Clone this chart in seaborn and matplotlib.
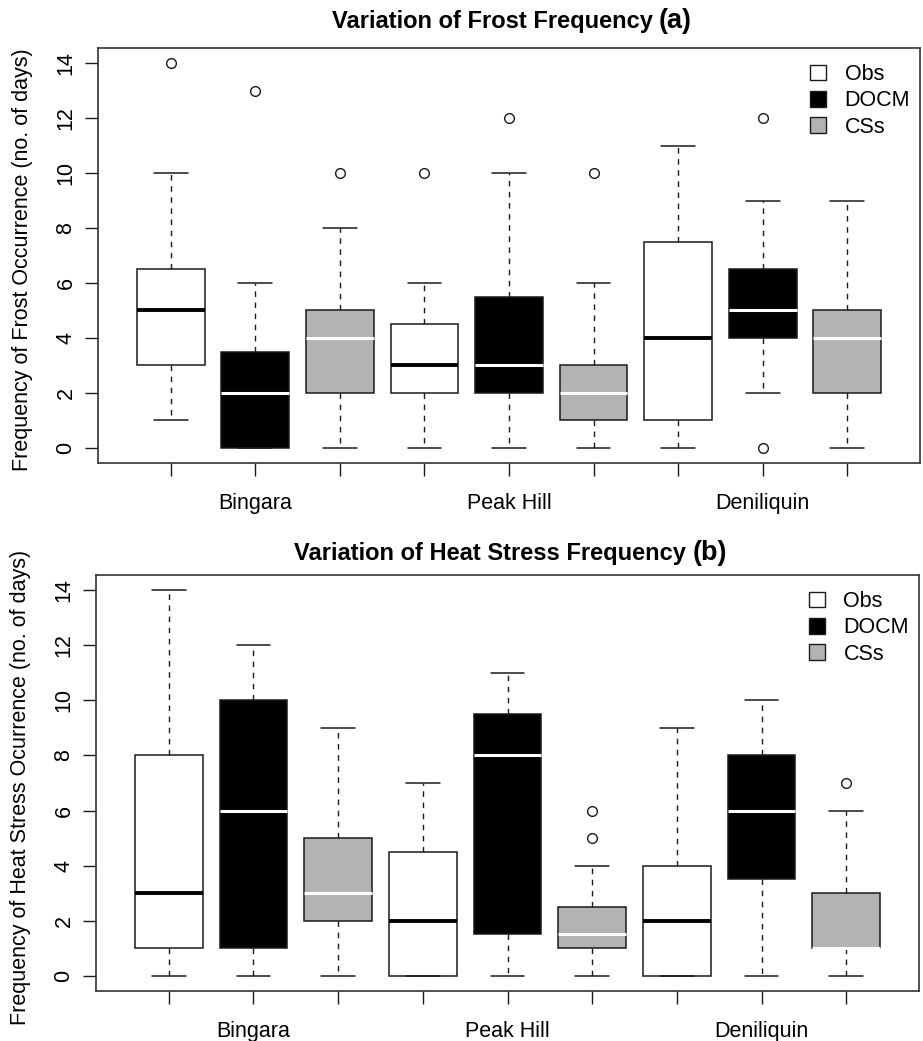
import numpy as np
import pandas as pd
import matplotlib
matplotlib.use("Agg")
import matplotlib.pyplot as plt
import seaborn as sns
from matplotlib.patches import Patch

# ---------------- data ----------------
sites = ["Bingara", "Peak Hill", "Deniliquin"]
sources = ["Obs", "DOCM", "CSs"]
source_colors = ["#ffffff", "#000000", "#b3b3b3"]
median_colors = ["#000000", "#ffffff", "#ffffff"]

# boxes ordered: Bingara Obs/DOCM/CSs, Peak Hill Obs/DOCM/CSs, Deniliquin Obs/DOCM/CSs
frost_low = [1, 0, 0, 0, 0, 0, 0, 2, 0]
frost_q1 = [3, 0, 2, 2, 2, 1, 1, 4, 2]
frost_med = [5, 2, 4, 3, 3, 2, 4, 5, 4]
frost_q3 = [6.5, 3.5, 5, 4.5, 5.5, 3, 7.5, 6.5, 5]
frost_high = [10, 6, 8, 6, 10, 6, 11, 9, 9]
frost_out = [[14], [13], [10], [10], [12], [10], [], [12, 0], []]

heat_low = [0, 0, 0, 0, 0, 0, 0, 0, 0]
heat_q1 = [1, 1, 2, 0, 1.5, 1, 0, 3.5, 1]
heat_med = [3, 6, 3, 2, 8, 1.5, 2, 6, 1]
heat_q3 = [8, 10, 5, 4.5, 9.5, 2.5, 4, 8, 3]
heat_high = [14, 12, 9, 7, 11, 4, 9, 10, 6]
heat_out = [[], [], [], [], [], [5, 6], [], [], [7]]

y_ticks = [0, 2, 4, 6, 8, 10, 12, 14]

# ---------------- style ----------------
sns.set_style("white")
plt.rcParams["font.family"] = ["Liberation Sans", "DejaVu Sans"]
plt.rcParams["text.color"] = "black"
plt.rcParams["axes.labelcolor"] = "black"
plt.rcParams["xtick.color"] = "black"
plt.rcParams["ytick.color"] = "black"

W, H = 923, 1041
fig = plt.figure(figsize=(W / 100, H / 100), dpi=100)

def fx(px):
    return px / W

def fy(px):
    return 1 - px / H

def make_stats(low, q1, med, q3, high, out):
    rows = []
    for i in range(len(low)):
        rows.append(dict(whislo=low[i], q1=q1[i], med=med[i], q3=q3[i],
                         whishi=high[i], fliers=out[i]))
    return rows

EDGE = "#1a1a1a"

def draw_panel(rect, stats, ylabel, main_title, tag, title_base_px):
    ax = fig.add_axes(rect)
    n = len(stats)
    positions = list(range(1, n + 1))
    arts = ax.bxp(stats, positions=positions, widths=0.8, capwidths=0.4,
                  patch_artist=True, showfliers=True,
                  boxprops=dict(edgecolor=EDGE, linewidth=1.1),
                  whiskerprops=dict(color=EDGE, linewidth=1.0,
                                    linestyle=(0, (4, 4))),
                  capprops=dict(color=EDGE, linewidth=1.1),
                  medianprops=dict(linewidth=2.6),
                  flierprops=dict(marker="o", markersize=7,
                                  markerfacecolor="none",
                                  markeredgecolor=EDGE,
                                  markeredgewidth=1.0),
                  zorder=2)
    for i, box in enumerate(arts["boxes"]):
        k = i % 3
        box.set_facecolor(source_colors[k])
        med = arts["medians"][i]
        med.set_color(median_colors[k])
        med.set_linewidth(2.8 if k == 0 else 2.2)
        med.set_solid_capstyle("butt")
        med.set_zorder(3)

    ax.set_xlim(0.14, 9.86)
    ax.set_ylim(-0.56, 14.56)
    labels = ["" for _ in positions]
    for j, s in enumerate(sites):
        labels[3 * j + 1] = s
    ax.set_xticks(positions)
    ax.set_xticklabels(labels, fontsize=15.5)
    ax.set_yticks(y_ticks)
    ax.set_yticklabels([str(v) for v in y_ticks], fontsize=15.5,
                       rotation=90, va="center")
    ax.tick_params(axis="x", direction="out", length=9.5, width=1.0,
                   color=EDGE, pad=12, bottom=True)
    ax.tick_params(axis="y", direction="out", length=9.5, width=1.0,
                   color=EDGE, pad=6, left=True)
    for sp in ax.spines.values():
        sp.set_color("#333333")
        sp.set_linewidth(1.2)
    ax.set_ylabel(ylabel, fontsize=15.5)
    ax.yaxis.set_label_coords(-0.079, 0.49)

    handles = [Patch(facecolor=c, edgecolor=EDGE, linewidth=1.0) for c in source_colors]
    ax.legend(handles, sources, loc="upper right", frameon=False,
              fontsize=15.5, handlelength=0.75, handleheight=0.75,
              handletextpad=0.85, labelspacing=0.25, borderpad=0,
              borderaxespad=0, bbox_to_anchor=(1 - 10 / 822, 1 - 16 / 415))

    # title in two parts, centred over the axes
    r = fig.canvas.get_renderer()
    t1 = fig.text(0, fy(title_base_px), main_title, fontsize=17,
                  fontweight="bold", va="baseline", ha="left")
    t2 = fig.text(0, fy(title_base_px), tag, fontsize=19.5,
                  fontweight="bold", va="baseline", ha="left")
    w1 = t1.get_window_extent(r).width
    w2 = t2.get_window_extent(r).width
    gap = 6
    bb = ax.get_position()
    cx = (bb.x0 + bb.x1) / 2 * W + 3
    start = cx - (w1 + gap + w2) / 2
    t1.set_x(start / W)
    t2.set_x((start + w1 + gap) / W)
    return ax

frost_stats = make_stats(frost_low, frost_q1, frost_med, frost_q3, frost_high, frost_out)
heat_stats = make_stats(heat_low, heat_q1, heat_med, heat_q3, heat_high, heat_out)

draw_panel([fx(98), fy(463), fx(920) - fx(98), fy(48) - fy(463)], frost_stats,
           "Frequency of Frost Occurrence (no. of days)",
           "Variation of Frost Frequency", "(a)", 28)
draw_panel([fx(96), fy(991), fx(919) - fx(96), fy(575) - fy(991)], heat_stats,
           "Frequency of Heat Stress Ocurrence (no. of days)",
           "Variation of Heat Stress Frequency", "(b)", 560)

fig.savefig("out.png", dpi=100)
